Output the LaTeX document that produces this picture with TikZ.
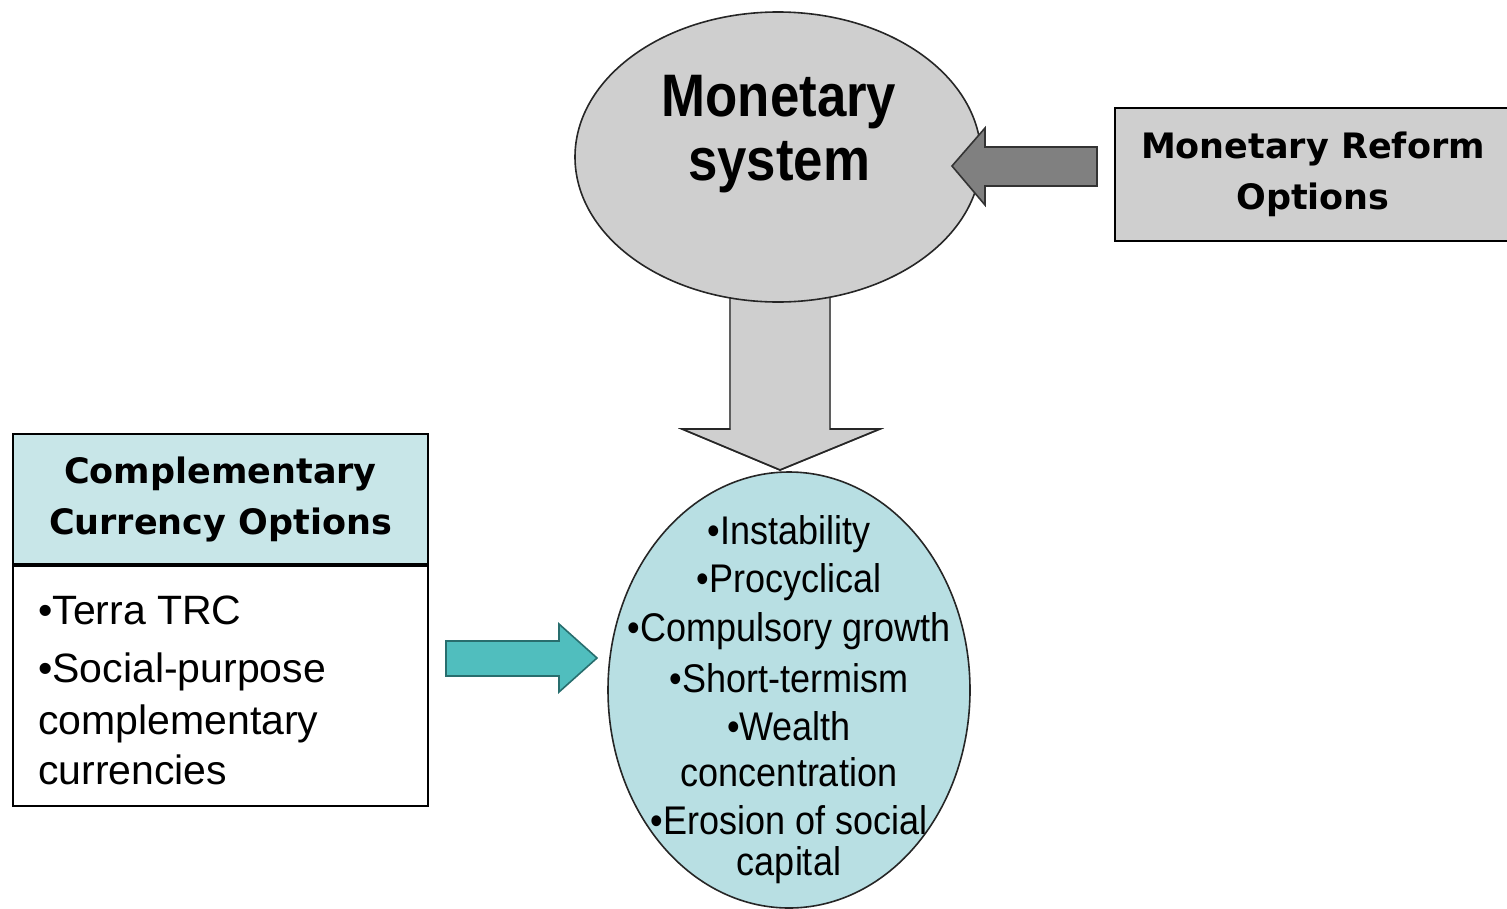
\documentclass[tikz,border=0pt]{standalone}
\usepackage{fontspec}
\setmainfont{Liberation Sans}
\newfontfamily\narrowbold[FakeStretch=0.88]{Liberation Sans Bold}
\newfontfamily\narrowreg[FakeStretch=0.9]{Liberation Sans}
\newfontfamily\widebold{DejaVu Sans Bold}
\usetikzlibrary{shapes.geometric}
\definecolor{sysgray}{RGB}{207,207,207}
\definecolor{darkarrow}{RGB}{128,128,128}
\definecolor{shaftline}{RGB}{95,95,95}
\definecolor{effcyan}{RGB}{184,223,227}
\definecolor{headcyan}{RGB}{200,230,232}
\definecolor{tealfill}{RGB}{80,190,190}
\definecolor{tealline}{RGB}{40,110,110}
\begin{document}
\begin{tikzpicture}[x=1pt,y=-1pt,
  bubble/.style={ellipse,draw=black!85,line width=1.6pt,inner sep=0pt},
  blockarrow/.style={line width=1.6pt,line join=miter},
  headfont/.style={font=\widebold\fontsize{35}{51}\selectfont},
  bigfont/.style={font=\narrowbold\fontsize{60}{64}\selectfont},
  efffont/.style={font=\narrowreg\fontsize{40}{47.3}\selectfont},
  listfont/.style={font=\fontsize{41}{52}\selectfont}
]
\useasboundingbox (0,0) rectangle (1507,908);

% effects ellipse (bottom)
\node[bubble,fill=effcyan,minimum width=362pt,minimum height=436pt] (effects) at (789,690) {};

% down arrow: monetary system -> effects
\coordinate (dtip) at (780,470);
\fill[sysgray,draw=shaftline,blockarrow]
  (730,296) -- (830,296) -- (830,429) -- (880,429) -- (dtip) -- (682,429) -- (730,429) -- cycle;
\draw[black!85,blockarrow] (830,429) -- (880,429) -- (dtip) -- (682,429) -- (730,429);

% monetary system ellipse (top)
\node[bubble,fill=sysgray,minimum width=406pt,minimum height=290pt] (system) at (778,157) {};
\node[bigfont,align=center,inner sep=0pt] (systxt) at (779,134) {Monetary\\system};

% monetary reform options box
\node[draw=black,line width=2.5pt,fill=sysgray,minimum width=396pt,minimum height=133pt,
      inner sep=0pt,headfont,align=center] (reform) at (1313,174.5) {Monetary Reform\\Options};

% left arrow: reform -> system
\coordinate (ltip) at (952,166);
\coordinate (ltail) at (1097,166);
\fill[darkarrow,draw=black!80,blockarrow]
  (ltail |- 0,147) -- (985,147) -- (985,128) -- (ltip) -- (985,205) -- (985,186) -- (ltail |- 0,186) -- cycle;

% complementary currency box
\node[fill=headcyan,minimum width=415pt,minimum height=131pt,inner sep=0pt,
      headfont,align=center] (cchead) at (220.5,499.5) {Complementary\\Currency Options};
\node[fill=white,minimum width=415pt,minimum height=241pt,inner sep=0pt] (ccbody) at (220.5,685.5) {};
\draw[line width=2.5pt] (cchead.north west) rectangle (ccbody.south east);
\draw[line width=4.5pt] (cchead.south west) -- (cchead.south east);
\node[listfont,align=left,anchor=north west,inner sep=0pt] (cclist) at (38,596)
  {•Terra TRC\\[6pt]•Social-purpose\\complementary\\[-2pt]currencies};

% teal arrow: complementary -> effects
\coordinate (rtip) at (597,658);
\fill[tealfill,draw=tealline,blockarrow]
  (446,641) -- (559,641) -- (559,624) -- (rtip) -- (559,692) -- (559,676) -- (446,676) -- cycle;

% effects text
\node[efffont,align=center,inner sep=0pt] (efftxt) at (789,700)
  {•Instability\\[0.7pt]•Procyclical\\[1.7pt]•Compulsory growth\\[3.7pt]•Short-termism\\[0.7pt]•Wealth\\[-1.3pt]concentration\\[0.7pt]•Erosion of social\\[-6.3pt]capital};
\end{tikzpicture}
\end{document}
